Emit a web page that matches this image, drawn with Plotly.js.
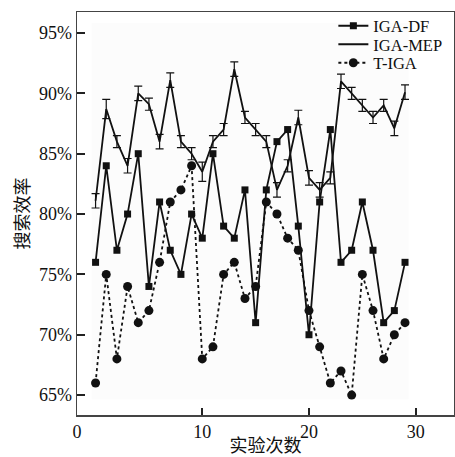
<!DOCTYPE html>
<html>
<head>
<meta charset="utf-8">
<script src="https://cdn.plot.ly/plotly-3.0.1.min.js"></script>
<style>
html,body{margin:0;padding:0;background:#fff;}
#chart{width:455px;height:457px;}
</style>
</head>
<body>
<div id="chart"></div>
<script>
// Experiment index (as positioned on the picture's x axis)
const runs = [0,1,2,3,4,5,6,7,8,9,10,11,12,13,14,15,16,17,18,19,20,21,22,23,24,25,26,27,28,29];

// IGA-DF (solid line, square markers)
const igaDF = [76,84,77,80,85,74,81,77,75,80,78,85,79,78,82,71,82,86,87,79,70,81,87,76,77,81,77,71,72,76];

// IGA-MEP (solid line with error bars)
const igaMEP = [81.1,88.7,86.0,84.0,90.0,89.1,86.0,91.1,86.0,85.0,83.5,86.0,87.0,92.0,88.0,87.0,86.0,82.0,84.0,88.0,83.0,82.0,83.0,91.0,90.0,89.0,88.0,89.0,87.1,90.1];
const igaMEPerr = [0.6,0.8,0.5,0.6,0.6,0.5,0.6,0.6,0.5,0.5,0.8,0.5,0.5,0.6,0.5,0.5,0.5,0.6,0.5,0.6,0.6,0.6,0.5,0.6,0.5,0.5,0.5,0.5,0.6,0.6];

// T-IGA (dotted line, circle markers)
const tIGA = [66,75,68,74,71,72,76,81,82,84,68,69,75,76,73,74,81,80,78,77,72,69,66,67,65,75,72,68,70,71];

// Axis labels
const xTickVals = [-1.74,10,20,30];
const xTickText = ['0','10','20','30'];
const yTickVals = [65,70,75,80,85,90,95];
const yTickText = ['65%','70%','75%','80%','85%','90%','95%'];
const seriesNames = ['IGA-DF','IGA-MEP','T-IGA'];

const serif = 'Liberation Serif, Times New Roman, serif';
const cjk = 'Noto Sans CJK SC, sans-serif';

const traces = [
  {
    x: runs, y: igaDF, name: seriesNames[0], type: 'scatter', mode: 'lines+markers',
    legend: 'legend',
    line: {color: '#111', width: 1.8},
    marker: {symbol: 'square', size: 7, color: '#111'}
  },
  {
    x: runs, y: igaMEP, name: seriesNames[1], type: 'scatter', mode: 'lines',
    legend: 'legend2',
    line: {color: '#111', width: 1.8},
    error_y: {type: 'data', array: igaMEPerr, visible: true, color: '#111', thickness: 1.2, width: 4}
  },
  {
    x: runs, y: tIGA, name: seriesNames[2], type: 'scatter', mode: 'lines+markers',
    legend: 'legend3',
    line: {color: '#111', width: 1.8, dash: 'dot'},
    marker: {symbol: 'circle', size: 9, color: '#111'}
  }
];

function legendAt(py) {
  return {
    x: 0.68, y: (415 - py) / 403, xanchor: 'left', yanchor: 'middle',
    bgcolor: 'rgba(0,0,0,0)', borderwidth: 0,
    font: {family: serif, size: 16.5, color: '#111'},
    itemwidth: 30
  };
}

const layout = {
  width: 455, height: 457,
  margin: {l: 77, r: 1, t: 12, b: 42, pad: 0},
  paper_bgcolor: '#fff', plot_bgcolor: '#fff',
  showlegend: true,
  legend: legendAt(26),
  legend2: legendAt(44.5),
  legend3: legendAt(63),
  xaxis: {
    range: [-1.74, 33.59], autorange: false,
    tickmode: 'array', tickvals: xTickVals, ticktext: xTickText,
    ticks: 'inside', ticklen: 7, tickwidth: 2, tickcolor: '#222',
    showline: true, linecolor: '#444', linewidth: 1.5, mirror: true,
    showgrid: false, zeroline: false,
    tickfont: {family: serif, size: 18, color: '#111'},
    title: {text: '实验次数', font: {family: cjk, size: 18, color: '#111'}, standoff: 2}
  },
  yaxis: {
    range: [63.35, 96.74], autorange: false,
    tickmode: 'array', tickvals: yTickVals, ticktext: yTickText,
    ticks: 'inside', ticklen: 8, tickwidth: 2, tickcolor: '#222',
    showline: true, linecolor: '#444', linewidth: 1.5, mirror: true,
    showgrid: false, zeroline: false,
    tickfont: {family: serif, size: 18, color: '#111'},
    title: {text: '搜索效率', font: {family: cjk, size: 18, color: '#111'}, standoff: 4}
  },
  shapes: [{
    type: 'rect', xref: 'x', yref: 'y', layer: 'below',
    x0: -0.37, x1: 29.33, y0: 64.65, y1: 95.83,
    fillcolor: '#fcfcfc', line: {width: 0}
  }]
};

Plotly.newPlot('chart', traces, layout, {displayModeBar: false, staticPlot: true});
</script>
</body>
</html>
